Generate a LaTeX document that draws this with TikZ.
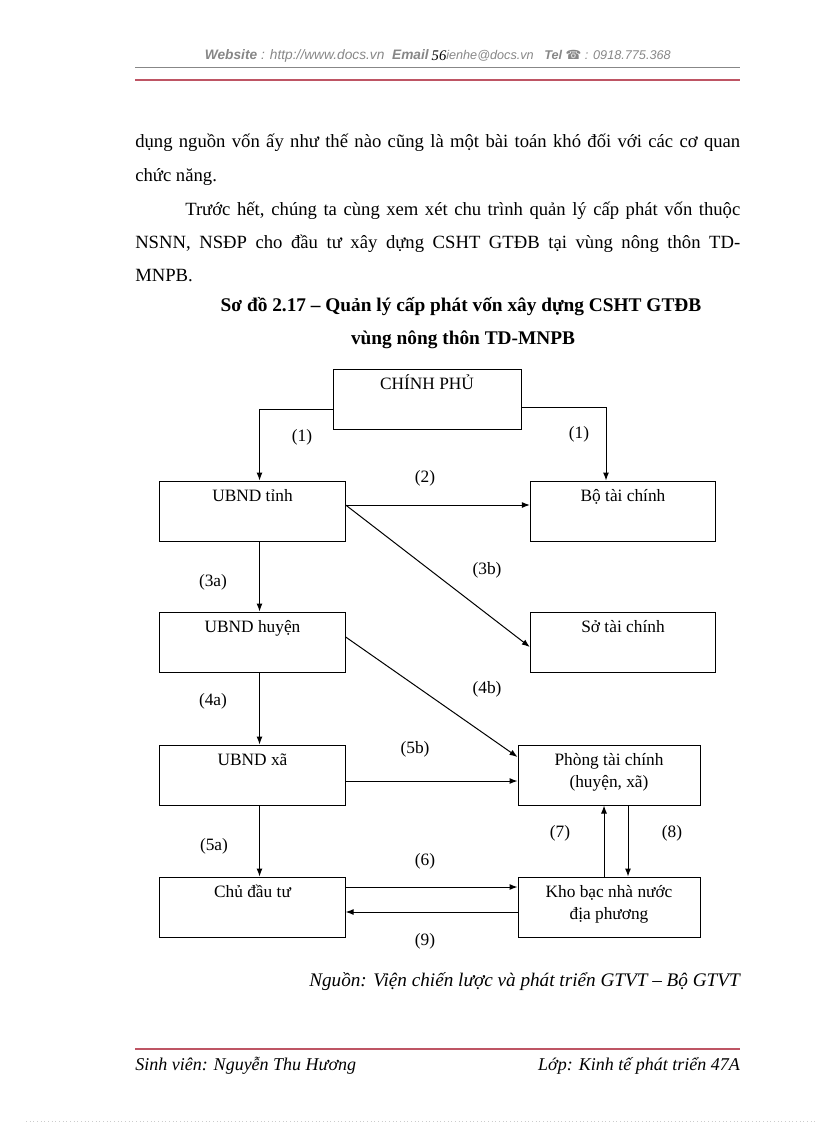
\documentclass[tikz,border=0pt]{standalone}
\usepackage{fontspec}
\setmainfont{Liberation Serif}
\newfontfamily\hdrfont{Liberation Sans}
\newfontfamily\symfont{DejaVu Sans}
\usetikzlibrary{arrows.meta}

\definecolor{hdrred}{RGB}{190,85,100}
\definecolor{hdrgray}{RGB}{135,135,135}

\begin{document}
\begin{tikzpicture}[x=0.75pt, y=-0.75pt,
    box/.style={draw, line width=0.75pt, minimum width=139pt, minimum height=45pt, inner sep=0pt},
    lbl/.style={anchor=base, inner sep=0pt, yshift=-16pt, align=center,
      font=\fontsize{13}{16.5}\selectfont},
    lbltwo/.style={lbl, yshift=-16.5pt},
    num/.style={inner sep=0pt, font=\fontsize{13}{15}\selectfont},
    arr/.style={-{Latex[length=6pt,width=4.5pt]}, line width=0.75pt},
    body/.style={anchor=base west, inner sep=0pt, font=\fontsize{14}{16}\selectfont},
    foot/.style={inner sep=0pt, font=\itshape\fontsize{13.5}{15}\selectfont},
    hdr/.style={inner sep=0pt, text=hdrgray, font=\hdrfont\itshape\fontsize{9.5}{11}\selectfont}]
  \useasboundingbox (0,0) rectangle (816,1123);

  % page header
  \node[hdr, anchor=base east, font=\hdrfont\itshape\fontsize{10.3}{11}\selectfont] (hdrA) at (429,60) {\textbf{Website} : http://www.docs.vn \ \textbf{Email}};
  \node[hdr, anchor=base west] (hdrB) at (446,60) {ienhe@docs.vn \ \ \textbf{Tel} {\symfont\upshape ☎} : 0918.775.368};
  \node[inner sep=0pt, anchor=base, font=\itshape\fontsize{11}{12}\selectfont] (pgno) at (439,61) {56};
  \draw[hdrgray, line width=0.5pt] (135,67) -- (740,67);
  \draw[hdrred, line width=2.2pt] (135,80) -- (740,80);

  % running text
  \node[body] (p1) at (135,148) {\makebox[453.75pt][s]{dụng nguồn vốn ấy như thế nào cũng là một bài toán khó đối với các cơ quan}};
  \node[body] (p2) at (135,182) {chức năng.};
  \node[body] (p3) at (185,215) {\makebox[416.25pt][s]{Trước hết, chúng ta cùng xem xét chu trình quản lý cấp phát vốn thuộc}};
  \node[body] (p4) at (135,248) {\makebox[453.75pt][s]{NSNN, NSĐP cho đầu tư xây dựng CSHT GTĐB tại vùng nông thôn TD-}};
  \node[body] (p5) at (135,281) {MNPB.};

  % title
  \node[inner sep=0pt, anchor=base, font=\bfseries\fontsize{14.5}{16}\selectfont] (t1) at (461,311) {Sơ đồ 2.17 – Quản lý cấp phát vốn xây dựng CSHT GTĐB};
  \node[inner sep=0pt, anchor=base, font=\bfseries\fontsize{14.5}{16}\selectfont] (t2) at (463,344) {vùng nông thôn TD-MNPB};

  % boxes
  \node[box, minimum width=141pt, label={[lbl]north:CHÍNH PHỦ}] (cp) at (427,399) {};
  \node[box, label={[lbl]north:UBND tỉnh}] (tinh) at (252.5,511) {};
  \node[box, label={[lbl]north:Bộ tài chính}] (btc) at (623,511) {};
  \node[box, label={[lbl]north:UBND huyện}] (huyen) at (252.5,642) {};
  \node[box, label={[lbl]north:Sở tài chính}] (stc) at (623,642) {};
  \node[box, label={[lbl]north:UBND xã}] (xa) at (252.5,775) {};
  \node[box, minimum width=136.5pt, label={[lbltwo]north:Phòng tài chính\\(huyện, xã)}] (ptc) at (609,775) {};
  \node[box, label={[lbl]north:Chủ đầu tư}] (cdt) at (252.5,907) {};
  \node[box, minimum width=136.5pt, label={[lbltwo]north:Kho bạc nhà nước\\địa phương}] (kb) at (609,907) {};

  % connectors
  \draw[arr] ([yshift=-7.5pt]cp.west) -| ([xshift=5.25pt]tinh.north);
  \draw[arr] ([yshift=-6pt]cp.east) -| ([xshift=-12.75pt]btc.north);
  \draw[arr] ([yshift=4.5pt]tinh.east) -- ([yshift=4.5pt]btc.west);
  \draw[arr] ([yshift=4.5pt]tinh.east) -- ([yshift=-3.75pt]stc.west);
  \draw[arr] ([xshift=5.25pt]tinh.south) -- ([xshift=5.25pt]huyen.north);
  \draw[arr] ([yshift=3.75pt]huyen.east) -- ([yshift=13.5pt]ptc.west);
  \draw[arr] ([xshift=5.25pt]huyen.south) -- ([xshift=5.25pt]xa.north);
  \draw[arr] ([yshift=-4.5pt]xa.east) -- ([yshift=-4.5pt]ptc.west);
  \draw[arr] ([xshift=5.25pt]xa.south) -- ([xshift=5.25pt]cdt.north);
  \draw[arr] ([yshift=15pt]cdt.east) -- ([yshift=15pt]kb.west);
  \draw[arr] ([yshift=-3.75pt]kb.west) -- ([yshift=-3.75pt]cdt.east);
  \draw[arr] ([xshift=-3.75pt]kb.north) -- ([xshift=-3.75pt]ptc.south);
  \draw[arr] ([xshift=14.25pt]ptc.south) -- ([xshift=14.25pt]kb.north);

  % step numbers
  \node[num] (n1a) at (302,437) {(1)};
  \node[num] (n1b) at (579,434) {(1)};
  \node[num] (n2) at (425,478) {(2)};
  \node[num] (n3a) at (213,582) {(3a)};
  \node[num] (n3b) at (487,570) {(3b)};
  \node[num] (n4a) at (213,701) {(4a)};
  \node[num] (n4b) at (487,689) {(4b)};
  \node[num] (n5a) at (214,846) {(5a)};
  \node[num] (n5b) at (415,749) {(5b)};
  \node[num] (n6) at (425,861) {(6)};
  \node[num] (n7) at (560,833) {(7)};
  \node[num] (n8) at (672,833) {(8)};
  \node[num] (n9) at (425,941) {(9)};

  % source and footer
  \node[foot, anchor=base east, font=\itshape\fontsize{14.4}{16}\selectfont] (src) at (740,986) {Nguồn: Viện chiến lược và phát triển GTVT – Bộ GTVT};
  \draw[hdrred, line width=2.2pt] (135,1049) -- (740,1049);
  \node[foot, anchor=base west] (sv) at (135,1070) {Sinh viên: Nguyễn Thu Hương};
  \node[foot, anchor=base east] (lop) at (740,1070) {Lớp: Kinh tế phát triển 47A};
  \draw[gray!40, dotted, line width=0.75pt] (26,1121) -- (816,1121);
\end{tikzpicture}
\end{document}
